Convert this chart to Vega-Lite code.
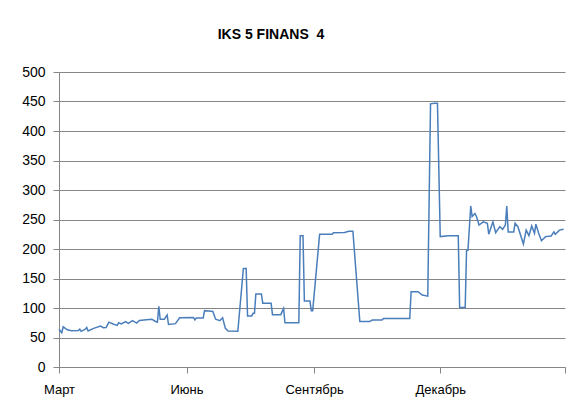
{
  "$schema": "https://vega.github.io/schema/vega-lite/v6.json",
  "width": 506,
  "height": 295,
  "autosize": {"type": "none"},
  "padding": {"left": 59, "top": 72, "right": 3, "bottom": 40},
  "background": "white",
  "title": {
    "text": "IKS 5 FINANS \u00a04",
    "font": "Liberation Sans",
    "fontSize": 14,
    "fontWeight": "bold",
    "color": "#000000",
    "anchor": "middle",
    "dx": -41,
    "offset": 23
  },
  "data": {
    "values": [
      {"date": "2013-03-01T00:00:00", "price": 64},
      {"date": "2013-03-03T00:00:00", "price": 58},
      {"date": "2013-03-04T00:00:00", "price": 68},
      {"date": "2013-03-07T00:00:00", "price": 63},
      {"date": "2013-03-10T00:00:00", "price": 61.5},
      {"date": "2013-03-15T00:00:00", "price": 62},
      {"date": "2013-03-16T00:00:00", "price": 64},
      {"date": "2013-03-17T00:00:00", "price": 60.5},
      {"date": "2013-03-20T00:00:00", "price": 64},
      {"date": "2013-03-21T00:00:00", "price": 67},
      {"date": "2013-03-22T00:00:00", "price": 61},
      {"date": "2013-03-26T00:00:00", "price": 65.5},
      {"date": "2013-03-31T00:00:00", "price": 69.5},
      {"date": "2013-04-02T00:00:00", "price": 66.6},
      {"date": "2013-04-04T00:00:00", "price": 67},
      {"date": "2013-04-06T00:00:00", "price": 76},
      {"date": "2013-04-09T00:00:00", "price": 73},
      {"date": "2013-04-12T00:00:00", "price": 70.6},
      {"date": "2013-04-13T00:00:00", "price": 75},
      {"date": "2013-04-15T00:00:00", "price": 73},
      {"date": "2013-04-18T00:00:00", "price": 77},
      {"date": "2013-04-20T00:00:00", "price": 74},
      {"date": "2013-04-23T00:00:00", "price": 78.5},
      {"date": "2013-04-26T00:00:00", "price": 74.5},
      {"date": "2013-04-28T00:00:00", "price": 79},
      {"date": "2013-05-03T00:00:00", "price": 80},
      {"date": "2013-05-07T00:00:00", "price": 81},
      {"date": "2013-05-09T00:00:00", "price": 78},
      {"date": "2013-05-11T00:00:00", "price": 76},
      {"date": "2013-05-12T00:00:00", "price": 103},
      {"date": "2013-05-13T00:00:00", "price": 81},
      {"date": "2013-05-16T00:00:00", "price": 81},
      {"date": "2013-05-18T00:00:00", "price": 88},
      {"date": "2013-05-19T00:00:00", "price": 72},
      {"date": "2013-05-24T00:00:00", "price": 73.5},
      {"date": "2013-05-27T00:00:00", "price": 83.5},
      {"date": "2013-06-06T00:00:00", "price": 84},
      {"date": "2013-06-07T00:00:00", "price": 80},
      {"date": "2013-06-08T00:00:00", "price": 83},
      {"date": "2013-06-13T00:00:00", "price": 83},
      {"date": "2013-06-14T00:00:00", "price": 95.5},
      {"date": "2013-06-17T00:00:00", "price": 95},
      {"date": "2013-06-20T00:00:00", "price": 94},
      {"date": "2013-06-22T00:00:00", "price": 81},
      {"date": "2013-06-25T00:00:00", "price": 78.5},
      {"date": "2013-06-27T00:00:00", "price": 83.5},
      {"date": "2013-06-29T00:00:00", "price": 65.5},
      {"date": "2013-07-01T00:00:00", "price": 61},
      {"date": "2013-07-08T00:00:00", "price": 60.5},
      {"date": "2013-07-12T00:00:00", "price": 167},
      {"date": "2013-07-14T00:00:00", "price": 167},
      {"date": "2013-07-15T00:00:00", "price": 86.5},
      {"date": "2013-07-18T00:00:00", "price": 86.5},
      {"date": "2013-07-19T00:00:00", "price": 91},
      {"date": "2013-07-20T00:00:00", "price": 91},
      {"date": "2013-07-21T00:00:00", "price": 123.7},
      {"date": "2013-07-25T00:00:00", "price": 123.7},
      {"date": "2013-07-26T00:00:00", "price": 108},
      {"date": "2013-08-01T00:00:00", "price": 108},
      {"date": "2013-08-02T00:00:00", "price": 88.7},
      {"date": "2013-08-08T00:00:00", "price": 88.7},
      {"date": "2013-08-10T00:00:00", "price": 99.4},
      {"date": "2013-08-11T00:00:00", "price": 75},
      {"date": "2013-08-21T00:00:00", "price": 75},
      {"date": "2013-08-22T00:00:00", "price": 222.6},
      {"date": "2013-08-24T00:00:00", "price": 222.6},
      {"date": "2013-08-25T00:00:00", "price": 112},
      {"date": "2013-08-29T00:00:00", "price": 112},
      {"date": "2013-08-30T00:00:00", "price": 95.5},
      {"date": "2013-08-31T00:00:00", "price": 95.5},
      {"date": "2013-09-05T00:00:00", "price": 225},
      {"date": "2013-09-14T00:00:00", "price": 225},
      {"date": "2013-09-15T00:00:00", "price": 227.6},
      {"date": "2013-09-23T00:00:00", "price": 228},
      {"date": "2013-09-26T00:00:00", "price": 230},
      {"date": "2013-09-29T00:00:00", "price": 230},
      {"date": "2013-10-04T00:00:00", "price": 77},
      {"date": "2013-10-11T00:00:00", "price": 77},
      {"date": "2013-10-13T00:00:00", "price": 79.7},
      {"date": "2013-10-20T00:00:00", "price": 79.7},
      {"date": "2013-10-21T00:00:00", "price": 82},
      {"date": "2013-11-09T00:00:00", "price": 82},
      {"date": "2013-11-10T00:00:00", "price": 127.6},
      {"date": "2013-11-15T00:00:00", "price": 127.6},
      {"date": "2013-11-18T00:00:00", "price": 122},
      {"date": "2013-11-22T00:00:00", "price": 120},
      {"date": "2013-11-24T00:00:00", "price": 446},
      {"date": "2013-11-27T00:00:00", "price": 447},
      {"date": "2013-11-29T00:00:00", "price": 447},
      {"date": "2013-12-01T00:00:00", "price": 221},
      {"date": "2013-12-07T00:00:00", "price": 222.6},
      {"date": "2013-12-14T00:00:00", "price": 222.6},
      {"date": "2013-12-15T00:00:00", "price": 101},
      {"date": "2013-12-19T00:00:00", "price": 101},
      {"date": "2013-12-20T00:00:00", "price": 198},
      {"date": "2013-12-21T00:00:00", "price": 198},
      {"date": "2013-12-23T00:00:00", "price": 273},
      {"date": "2013-12-24T00:00:00", "price": 255},
      {"date": "2013-12-26T00:00:00", "price": 260},
      {"date": "2013-12-27T00:00:00", "price": 256},
      {"date": "2013-12-29T00:00:00", "price": 240.7},
      {"date": "2014-01-01T00:00:00", "price": 246},
      {"date": "2014-01-04T00:00:00", "price": 243.5},
      {"date": "2014-01-05T00:00:00", "price": 225},
      {"date": "2014-01-08T00:00:00", "price": 246},
      {"date": "2014-01-10T00:00:00", "price": 227.6},
      {"date": "2014-01-13T00:00:00", "price": 237.8},
      {"date": "2014-01-15T00:00:00", "price": 233.4},
      {"date": "2014-01-17T00:00:00", "price": 240.7},
      {"date": "2014-01-18T00:00:00", "price": 273},
      {"date": "2014-01-19T00:00:00", "price": 229},
      {"date": "2014-01-23T00:00:00", "price": 229},
      {"date": "2014-01-24T00:00:00", "price": 243.5},
      {"date": "2014-01-26T00:00:00", "price": 237.8},
      {"date": "2014-01-30T00:00:00", "price": 208.5},
      {"date": "2014-02-01T00:00:00", "price": 232},
      {"date": "2014-02-03T00:00:00", "price": 222.6},
      {"date": "2014-02-05T00:00:00", "price": 239},
      {"date": "2014-02-07T00:00:00", "price": 226.6},
      {"date": "2014-02-08T00:00:00", "price": 242},
      {"date": "2014-02-10T00:00:00", "price": 226.6},
      {"date": "2014-02-12T00:00:00", "price": 214},
      {"date": "2014-02-15T00:00:00", "price": 221},
      {"date": "2014-02-19T00:00:00", "price": 222},
      {"date": "2014-02-21T00:00:00", "price": 229},
      {"date": "2014-02-22T00:00:00", "price": 225},
      {"date": "2014-02-25T00:00:00", "price": 232},
      {"date": "2014-02-28T00:00:00", "price": 233.4}
    ]
  },
  "mark": {"type": "line", "color": "#4a7ebb", "strokeWidth": 1.5, "interpolate": "linear"},
  "encoding": {
    "x": {
      "field": "date",
      "type": "temporal",
      "scale": {
        "domain": [
          {"year": 2013, "month": 3, "date": 1},
          {"year": 2014, "month": 3, "date": 1}
        ],
        "nice": false
      },
      "axis": {
        "title": null,
        "grid": false,
        "values": [
          {"year": 2013, "month": 3, "date": 1},
          {"year": 2013, "month": 6, "date": 1},
          {"year": 2013, "month": 9, "date": 1},
          {"year": 2013, "month": 12, "date": 1},
          {"year": 2014, "month": 3, "date": 1}
        ],
        "labelExpr": "year(datum.value) > 2013 ? '' : ['Январь','Февраль','Март','Апрель','Май','Июнь','Июль','Август','Сентябрь','Октябрь','Ноябрь','Декабрь'][month(datum.value)]",
        "labelFont": "Liberation Sans",
        "labelFontSize": 13,
        "labelColor": "#000000",
        "labelPadding": 10,
        "labelFlush": false,
        "labelOverlap": false,
        "tickSize": 6,
        "tickColor": "#868686",
        "domainColor": "#868686",
        "tickWidth": 1,
        "domainWidth": 1
      }
    },
    "y": {
      "field": "price",
      "type": "quantitative",
      "scale": {"domain": [0, 500], "nice": false, "zero": true},
      "axis": {
        "title": null,
        "values": [0, 50, 100, 150, 200, 250, 300, 350, 400, 450, 500],
        "grid": true,
        "gridColor": "#868686",
        "gridWidth": 1,
        "labelFont": "Liberation Sans",
        "labelFontSize": 14,
        "labelColor": "#000000",
        "labelPadding": 8,
        "labelFlush": false,
        "tickSize": 6,
        "tickColor": "#868686",
        "domainColor": "#868686",
        "tickWidth": 1,
        "domainWidth": 1
      }
    }
  },
  "config": {
    "view": {"stroke": null}
  }
}
